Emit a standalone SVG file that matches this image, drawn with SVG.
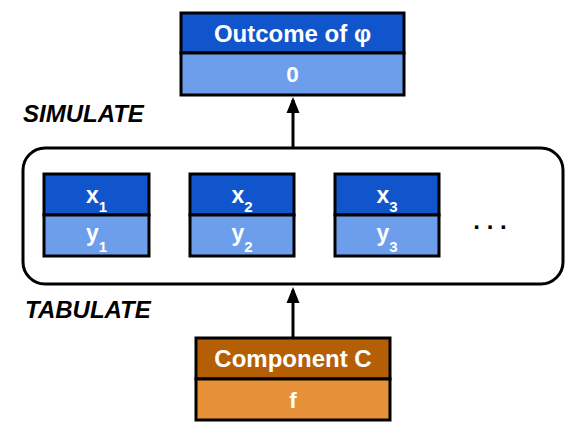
<svg xmlns="http://www.w3.org/2000/svg" width="583" height="437" viewBox="0 0 583 437">
<style>
.bx{stroke:#000;stroke-width:3}
.dk{fill:#1155cc}.lt{fill:#6d9eeb}
.dko{fill:#b45f06}.lto{fill:#e69138}
.t{font-family:"Liberation Sans",Arial,sans-serif;font-weight:bold;fill:#fff;text-anchor:middle}
.lab{font-family:"Liberation Sans",Arial,sans-serif;font-weight:bold;font-style:italic;font-size:24px;fill:#000}
.ln{stroke:#000;stroke-width:3;fill:none}
</style>
<defs>
<marker id="ah" markerWidth="16" markerHeight="14" refX="13" refY="7" orient="auto" markerUnits="userSpaceOnUse">
<path d="M0,0.5 L16,7 L0,13.5 z" fill="#000"/>
</marker>
</defs>
<text class="lab" x="23" y="122">SIMULATE</text>
<text class="lab" x="25" y="318">TABULATE</text>
<g id="connectors">
<line class="ln" x1="293" y1="148" x2="293" y2="100" marker-end="url(#ah)"/>
<line class="ln" x1="293" y1="338" x2="293" y2="290" marker-end="url(#ah)"/>
</g>
<g id="outcome">
<rect class="bx dk" x="181" y="13" width="223" height="40"/>
<rect class="bx lt" x="181" y="53" width="223" height="42"/>
<text class="t" x="292.5" y="42" font-size="24">Outcome of φ</text>
<text class="t" x="292.5" y="82" font-size="22.5">0</text>
</g>
<g id="table">
<rect x="23" y="148" width="540" height="136" rx="22" ry="22" fill="#fff" stroke="#000" stroke-width="3"/>
</g>
<g id="pair1">
<rect class="bx dk" x="44" y="174" width="105" height="41"/>
<rect class="bx lt" x="44" y="215" width="105" height="41"/>
<text class="t" x="96.5" y="203" font-size="23">x<tspan font-size="15" dy="9">1</tspan></text>
<text class="t" x="96.5" y="241" font-size="23">y<tspan font-size="15" dy="11">1</tspan></text>
</g>
<g id="pair2">
<rect class="bx dk" x="190" y="174" width="104" height="41"/>
<rect class="bx lt" x="190" y="215" width="104" height="41"/>
<text class="t" x="242" y="203" font-size="23">x<tspan font-size="15" dy="9">2</tspan></text>
<text class="t" x="242" y="241" font-size="23">y<tspan font-size="15" dy="11">2</tspan></text>
</g>
<g id="pair3">
<rect class="bx dk" x="335" y="174" width="104" height="41"/>
<rect class="bx lt" x="335" y="215" width="104" height="41"/>
<text class="t" x="387" y="203" font-size="23">x<tspan font-size="15" dy="9">3</tspan></text>
<text class="t" x="387" y="241" font-size="23">y<tspan font-size="15" dy="11">3</tspan></text>
</g>
<g id="ellipsis">
<text x="490" y="229" font-family="Liberation Sans,Arial,sans-serif" font-weight="bold" font-size="24" text-anchor="middle" fill="#000">. . .</text>
</g>
<g id="component">
<rect class="bx dko" x="196" y="338" width="194" height="41"/>
<rect class="bx lto" x="196" y="379" width="194" height="41"/>
<text class="t" x="293" y="367" font-size="24">Component C</text>
<text class="t" x="293" y="408" font-size="22.5">f</text>
</g>
</svg>
